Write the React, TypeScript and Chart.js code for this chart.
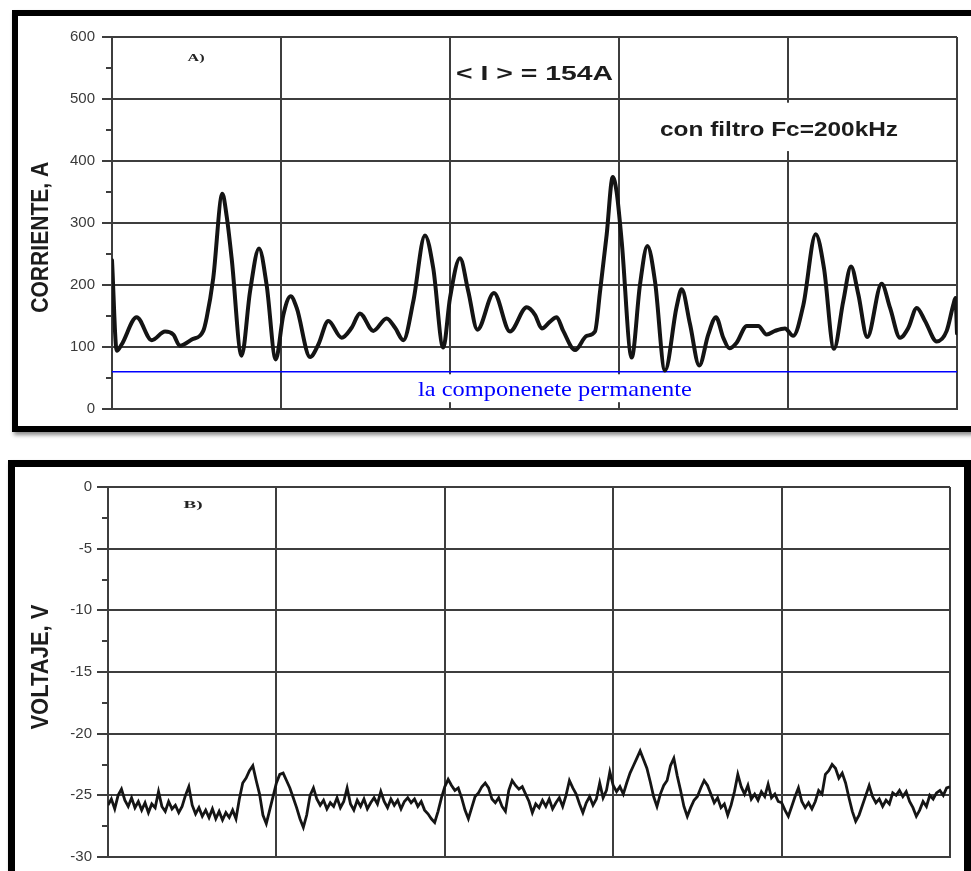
import React, { useEffect, useRef } from "react";
import { Chart, registerables } from "chart.js";

Chart.register(...registerables);

// ---------- Panel A: current (A) ----------
const currentTime = [
  0.000, 0.028, 0.057, 0.146, 0.235, 0.314, 0.363, 0.402, 0.472, 0.540,
  0.560, 0.599, 0.653, 0.679, 0.708, 0.767, 0.817, 0.870, 0.915, 0.969,
  1.014, 1.057, 1.093, 1.172, 1.221, 1.280, 1.359, 1.418, 1.467, 1.546,
  1.625, 1.675, 1.724, 1.783, 1.852, 1.901, 1.960, 2.000, 2.059, 2.108,
  2.162, 2.260, 2.355, 2.454, 2.503, 2.543, 2.592, 2.631, 2.670, 2.740,
  2.809, 2.858, 2.888, 2.927, 2.963, 2.986, 3.016, 3.075, 3.124, 3.168,
  3.213, 3.272, 3.341, 3.371, 3.420, 3.475, 3.528, 3.574, 3.617, 3.653,
  3.696, 3.756, 3.824, 3.874, 3.923, 3.982, 4.031, 4.091, 4.164, 4.213,
  4.272, 4.327, 4.373, 4.416, 4.469, 4.554, 4.604, 4.663, 4.712, 4.762,
  4.811, 4.880, 4.939, 4.978, 4.991, 5.000,
];
const currentValues = [
  240, 94, 104, 148, 111, 125, 120, 102, 112, 126,
  147, 211, 347, 310, 243, 86, 190, 259, 200, 80,
  152, 182, 163, 84, 104, 142, 115, 131, 154, 126,
  146, 131, 111, 174, 280, 227, 99, 179, 243, 190,
  128, 187, 125, 164, 152, 130, 141, 148, 126, 95,
  118, 125, 190, 281, 374, 350, 270, 83, 200, 263,
  206, 62, 165, 193, 137, 70, 120, 148, 115, 98,
  107, 134, 134, 120, 126, 130, 118, 168, 282, 227,
  97, 174, 230, 185, 116, 202, 163, 115, 131, 163,
  142, 109, 126, 168, 179, 122,
];
const permanentComponent = 60;
const timeRange = [0, 5];
const timeGridTicks = [0, 1, 2, 3, 4, 5];
const currentTicks = [0, 100, 200, 300, 400, 500, 600];
const currentMinorTicks = [50, 150, 250, 350, 450, 550];

// ---------- Panel B: voltage (V) ----------
const voltageSampleStep = 0.02;
const voltageValues = [
  -25.8, -25.3, -26.1, -25.0, -24.5, -25.4, -25.9, -25.2, -26.0, -25.5,
  -26.2, -25.6, -26.4, -25.7, -26.0, -24.7, -25.9, -26.3, -25.5, -26.1,
  -25.8, -26.4, -25.9, -25.0, -24.3, -25.8, -26.5, -26.0, -26.7, -26.2,
  -26.8, -26.1, -26.9, -26.3, -27.0, -26.4, -26.8, -26.2, -26.9, -25.3,
  -24.0, -23.6, -23.0, -22.6, -23.8, -24.9, -26.6, -27.3, -26.2, -25.1,
  -24.0, -23.3, -23.2, -23.8, -24.4, -25.2, -26.0, -26.9, -27.6, -26.6,
  -25.0, -24.4, -25.3, -25.8, -25.4, -26.1, -25.6, -25.9, -25.2, -26.0,
  -25.5, -24.4, -25.7, -26.2, -25.4, -25.9, -25.3, -26.1, -25.6, -25.2,
  -25.7, -24.7, -25.5, -26.0, -25.3, -25.8, -25.4, -26.1, -25.5, -25.2,
  -25.6, -25.3, -25.9, -25.5, -26.2, -26.5, -26.9, -27.2, -26.3, -25.2,
  -24.3, -23.7, -24.2, -24.6, -24.4, -25.2, -26.2, -26.9, -26.0, -25.1,
  -24.8, -24.3, -24.0, -24.4, -25.3, -25.6, -25.2, -25.9, -26.3, -24.6,
  -23.8, -24.2, -24.5, -24.3, -24.9, -25.5, -26.4, -25.7, -26.0, -25.4,
  -25.9, -25.3, -26.1, -25.6, -25.2, -25.9, -25.0, -23.8, -24.4, -24.9,
  -25.7, -26.4, -25.6, -25.1, -25.8, -25.3, -24.0, -25.2, -24.6, -23.1,
  -24.2, -24.7, -24.3, -24.9, -24.0, -23.2, -22.6, -22.0, -21.4, -22.1,
  -22.8, -23.9, -25.1, -25.9, -24.9, -24.2, -23.8, -22.6, -22.0, -23.4,
  -24.6, -25.9, -26.7, -26.0, -25.4, -25.1, -24.4, -23.8, -24.2, -24.9,
  -25.6, -25.2, -26.0, -25.7, -26.6, -25.8, -24.7, -23.3, -24.3, -24.9,
  -24.2, -25.3, -24.9, -25.4, -24.7, -25.1, -24.1, -25.2, -24.9, -25.5,
  -25.6, -26.2, -26.7, -25.9, -25.1, -24.4, -25.5, -26.0, -25.6, -26.1,
  -25.5, -24.6, -24.9, -23.3, -23.0, -22.5, -22.8, -23.6, -23.2, -24.0,
  -25.2, -26.3, -27.1, -26.6, -25.8, -25.0, -24.2, -25.1, -25.6, -25.3,
  -25.9, -25.4, -25.7, -24.8, -25.0, -24.6, -25.1, -24.7, -25.5, -26.0,
  -26.7, -26.2, -25.5, -25.9, -25.0, -25.3, -24.8, -24.6, -25.0, -24.4,
  -24.3,
];
const voltageTicks = [0, -5, -10, -15, -20, -25, -30];
const voltageMinorTicks = [-2.5, -7.5, -12.5, -17.5, -22.5, -27.5];

// ---------- drawing helpers ----------
type TextItem = { text: string; x: number; y: number; font: string; color: string; width: number };
type BoxItem = { x0: number; x1: number; y0: number; y1: number };
type PanelConfig = {
  texts: TextItem[];
  boxes: BoxItem[];
  minorTicks: number[];
  minorLen: number;
  title: { text: string; offset: number; y: number; length: number };
};

const GRID = "#3d3d3d";

function makePanelPlugin(cfg: PanelConfig) {
  return {
    id: "panelText",
    beforeDatasetsDraw(chart: any) {
      const ctx: CanvasRenderingContext2D = chart.ctx;
      const xs = chart.scales.x;
      const ys = chart.scales.y;
      ctx.save();
      ctx.fillStyle = "#ffffff";
      for (const b of cfg.boxes) {
        const l = xs.getPixelForValue(b.x0);
        const r = xs.getPixelForValue(b.x1);
        const t = ys.getPixelForValue(b.y0);
        const bt = ys.getPixelForValue(b.y1);
        ctx.fillRect(l, t, r - l, bt - t);
      }
      for (const it of cfg.texts) {
        ctx.font = it.font;
        ctx.fillStyle = it.color;
        ctx.textAlign = "center";
        ctx.textBaseline = "alphabetic";
        const w = ctx.measureText(it.text).width;
        ctx.save();
        ctx.translate(xs.getPixelForValue(it.x), ys.getPixelForValue(it.y));
        ctx.scale(it.width / w, 1);
        ctx.fillText(it.text, 0, 0);
        ctx.restore();
      }
      ctx.restore();
    },
    afterDraw(chart: any) {
      const ctx: CanvasRenderingContext2D = chart.ctx;
      const ys = chart.scales.y;
      const left = chart.chartArea.left;
      ctx.save();
      ctx.strokeStyle = GRID;
      ctx.lineWidth = 2;
      for (const v of cfg.minorTicks) {
        const py = Math.round(ys.getPixelForValue(v));
        ctx.beginPath();
        ctx.moveTo(left - cfg.minorLen, py);
        ctx.lineTo(left, py);
        ctx.stroke();
      }
      const t = cfg.title;
      ctx.font = 'bold 21px "Liberation Sans", Arial, sans-serif';
      ctx.fillStyle = "#1c1c1c";
      ctx.textAlign = "center";
      ctx.textBaseline = "middle";
      const w = ctx.measureText(t.text).width;
      ctx.translate(left + t.offset, ys.getPixelForValue(t.y));
      ctx.rotate(-Math.PI / 2);
      ctx.scale(t.length / w, 1.15);
      ctx.fillText(t.text, 0, 0);
      ctx.restore();
    },
  };
}

function axisOptions(yMin: number, yMax: number, yTicks: number[], yWidth: number, tickLen: number, pad: number) {
  return {
    x: {
      type: "linear",
      min: timeRange[0],
      max: timeRange[1],
      afterBuildTicks: (s: any) => {
        s.ticks = timeGridTicks.map((v) => ({ value: v }));
      },
      ticks: { display: false },
      grid: { color: GRID, lineWidth: 2, drawTicks: false },
      border: { display: true, color: GRID, width: 2 },
      afterFit: (s: any) => {
        s.height = 0;
      },
    },
    y: {
      type: "linear",
      min: yMin,
      max: yMax,
      afterBuildTicks: (s: any) => {
        s.ticks = yTicks.map((v) => ({ value: v }));
      },
      ticks: {
        font: { family: '"Liberation Sans", Arial, sans-serif', size: 15 },
        color: "#3a3a3a",
        padding: pad,
      },
      grid: { color: GRID, lineWidth: 2, tickLength: tickLen, tickColor: GRID },
      border: { display: true, color: GRID, width: 2 },
      afterFit: (s: any) => {
        s.width = yWidth;
      },
    },
  };
}

export default function App() {
  const topRef = useRef<HTMLCanvasElement>(null);
  const botRef = useRef<HTMLCanvasElement>(null);

  useEffect(() => {
    const topPlugin = makePanelPlugin({
      texts: [
        { text: "A)", x: 0.497, y: 561, font: 'bold 11px "Liberation Serif", serif', color: "#222", width: 17 },
        { text: "< I > = 154A", x: 2.5, y: 531, font: 'bold 21px "Liberation Sans", Arial, sans-serif', color: "#1c1c1c", width: 157 },
        { text: "con filtro Fc=200kHz", x: 3.947, y: 440, font: 'bold 20px "Liberation Sans", Arial, sans-serif', color: "#1c1c1c", width: 238 },
        { text: "la componenete permanente", x: 2.621, y: 20.3, font: '21px "Liberation Serif", "Times New Roman", serif', color: "#0000ff", width: 274 },
      ],
      boxes: [
        { x0: 3.213, x1: 4.675, y0: 494, y1: 416 },
        { x0: 1.793, x1: 3.45, y0: 56, y1: 11 },
      ],
      minorTicks: currentMinorTicks,
      minorLen: 6,
      title: { text: "CORRIENTE, A", offset: -71, y: 277, length: 151 },
    });

    const top = new Chart(topRef.current as HTMLCanvasElement, {
      type: "line",
      data: {
        datasets: [
          {
            data: currentTime.map((t, i) => ({ x: t, y: currentValues[i] })),
            borderColor: "#141414",
            borderWidth: 4,
            pointRadius: 0,
            cubicInterpolationMode: "monotone",
            borderJoinStyle: "round",
            borderCapStyle: "round",
          },
          {
            data: [
              { x: timeRange[0], y: permanentComponent },
              { x: timeRange[1], y: permanentComponent },
            ],
            borderColor: "#0000ff",
            borderWidth: 1.5,
            pointRadius: 0,
          },
        ],
      } as any,
      options: {
        animation: false,
        responsive: false,
        events: [],
        layout: { padding: { top: 21, right: 14, bottom: 13, left: 0 } },
        plugins: { legend: { display: false }, tooltip: { enabled: false } },
        scales: axisOptions(0, 600, currentTicks, 94, 10, 7) as any,
      },
      plugins: [topPlugin as any],
    });

    const botPlugin = makePanelPlugin({
      texts: [
        { text: "B)", x: 0.505, y: -1.68, font: 'bold 11px "Liberation Serif", serif', color: "#222", width: 19 },
      ],
      boxes: [],
      minorTicks: voltageMinorTicks,
      minorLen: 6,
      title: { text: "VOLTAJE, V", offset: -67, y: -14.6, length: 125 },
    });

    const bot = new Chart(botRef.current as HTMLCanvasElement, {
      type: "line",
      data: {
        datasets: [
          {
            data: voltageValues.map((v, i) => ({ x: i * voltageSampleStep, y: v })),
            borderColor: "#151515",
            borderWidth: 2.8,
            pointRadius: 0,
            tension: 0,
            borderJoinStyle: "miter",
          },
        ],
      } as any,
      options: {
        animation: false,
        responsive: false,
        events: [],
        layout: { padding: { top: 20, right: 14, bottom: 9, left: 0 } },
        plugins: { legend: { display: false }, tooltip: { enabled: false } },
        scales: axisOptions(-30, 0, voltageTicks, 93, 11, 5) as any,
      },
      plugins: [botPlugin as any],
    });

    return () => {
      top.destroy();
      bot.destroy();
    };
  }, []);

  return (
    <div
      style={{
        position: "fixed",
        left: 0,
        top: 0,
        width: 971,
        height: 871,
        background: "#ffffff",
        overflow: "hidden",
      }}
    >
      <div
        style={{
          position: "absolute",
          left: 12,
          top: 10,
          width: 975,
          height: 422,
          boxSizing: "border-box",
          border: "6px solid #000",
          boxShadow: "2px 3px 4px rgba(0,0,0,0.45)",
        }}
      />
      <canvas
        ref={topRef}
        width={953}
        height={409}
        style={{ position: "absolute", left: 18, top: 16, display: "block" }}
      />
      <div
        style={{
          position: "absolute",
          left: 8,
          top: 460,
          width: 963,
          height: 430,
          boxSizing: "border-box",
          border: "7px solid #000",
          boxShadow: "2px 3px 4px rgba(0,0,0,0.45)",
        }}
      />
      <canvas
        ref={botRef}
        width={949}
        height={404}
        style={{ position: "absolute", left: 15, top: 467, display: "block" }}
      />
    </div>
  );
}
